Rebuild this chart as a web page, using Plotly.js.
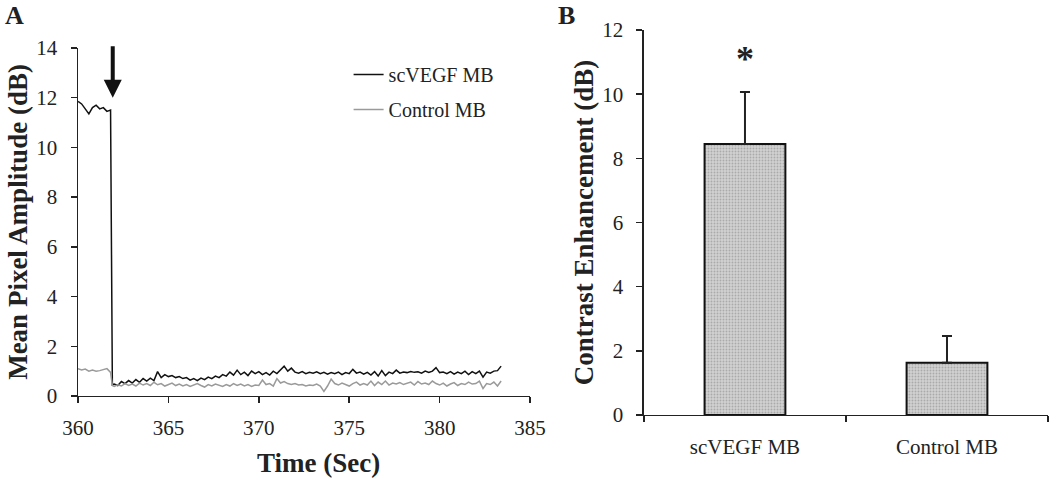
<!DOCTYPE html>
<html>
<head>
<meta charset="utf-8">
<script src="https://cdn.plot.ly/plotly-3.0.1.min.js"></script>
<style>
  html, body { margin: 0; padding: 0; background: #fff; }
  #myDiv { width: 1050px; height: 478px; }
</style>
</head>
<body>
<div id="myDiv"></div>
<script>
// Panel A: time course (sec) of mean pixel amplitude (dB)
var timeSec = [
    360.0, 360.2, 360.4, 360.6, 360.8, 361.0, 361.2, 361.4, 361.6, 361.8, 361.9,
    362.0, 362.2, 362.4, 362.6, 362.8, 363.0, 363.2, 363.4, 363.6, 363.8,
    364.0, 364.2, 364.4, 364.6, 364.8, 365.0, 365.2, 365.4, 365.6, 365.8,
    366.0, 366.2, 366.4, 366.6, 366.8, 367.0, 367.2, 367.4, 367.6, 367.8,
    368.0, 368.2, 368.4, 368.6, 368.8, 369.0, 369.2, 369.4, 369.6, 369.8,
    370.0, 370.2, 370.4, 370.6, 370.8, 371.0, 371.2, 371.4, 371.6, 371.8,
    372.0, 372.2, 372.4, 372.6, 372.8, 373.0, 373.2, 373.4, 373.6, 373.8,
    374.0, 374.2, 374.4, 374.6, 374.8, 375.0, 375.2, 375.4, 375.6, 375.8,
    376.0, 376.2, 376.4, 376.6, 376.8, 377.0, 377.2, 377.4, 377.6, 377.8,
    378.0, 378.2, 378.4, 378.6, 378.8, 379.0, 379.2, 379.4, 379.6, 379.8,
    380.0, 380.2, 380.4, 380.6, 380.8, 381.0, 381.2, 381.4, 381.6, 381.8,
    382.0, 382.2, 382.4, 382.6, 382.8, 383.0, 383.2, 383.4
];
var scVegfAmp = [
    11.85, 11.75, 11.55, 11.35, 11.6, 11.7, 11.55, 11.6, 11.45, 11.5, 0.45,
    0.48, 0.42, 0.58, 0.5, 0.62, 0.52, 0.66, 0.55, 0.7, 0.6,
    0.72, 0.62, 0.98, 0.74, 0.86, 0.78, 0.82, 0.74, 0.78, 0.7,
    0.74, 0.64, 0.7, 0.62, 0.72, 0.66, 0.76, 0.7, 0.8, 0.74,
    0.86, 0.8, 0.96, 0.84, 1.04, 0.86, 0.96, 0.82, 1.0, 0.9,
    0.98, 0.86, 0.94, 0.84, 1.0, 0.9, 1.06, 1.2, 1.0, 1.12,
    0.96, 0.92, 0.98, 0.9, 0.95, 0.92, 0.97, 0.9, 0.95, 0.88,
    0.94, 0.9, 0.96, 0.86, 0.94, 0.9, 1.07, 0.92, 0.96, 0.88,
    0.95, 0.84, 0.98, 0.8, 1.02, 0.82, 0.96, 0.9, 1.04, 0.92,
    0.96, 0.94, 0.98, 0.95, 0.97, 0.92, 1.0, 0.95, 1.0, 1.14,
    0.94, 0.96, 0.9, 0.98, 0.88, 0.96, 0.9, 1.0, 0.86, 0.98,
    0.9, 1.0, 0.76, 0.96, 0.92, 1.0, 1.02, 1.2
];
var controlAmp = [
    1.1, 1.05, 1.08, 1.0, 1.04, 1.0, 1.02, 1.06, 1.1, 0.95, 0.42,
    0.38, 0.45, 0.4, 0.5, 0.42, 0.48, 0.4, 0.52, 0.44, 0.5,
    0.42, 0.55, 0.45, 0.5, 0.4, 0.46, 0.52, 0.42, 0.48, 0.4,
    0.46, 0.38, 0.44, 0.5, 0.42, 0.36, 0.46, 0.4, 0.48, 0.42,
    0.38, 0.46, 0.4, 0.5, 0.42, 0.48, 0.4, 0.46, 0.38, 0.44,
    0.42, 0.64, 0.46, 0.5, 0.4, 0.7, 0.52, 0.58, 0.5, 0.46,
    0.5, 0.44, 0.46, 0.4, 0.44, 0.42, 0.48, 0.4, 0.18, 0.4,
    0.68, 0.5, 0.44, 0.52, 0.46, 0.4, 0.5, 0.56, 0.44, 0.5,
    0.44, 0.6, 0.42, 0.56, 0.46, 0.6, 0.44, 0.52, 0.48, 0.54,
    0.46, 0.5, 0.56, 0.44, 0.58, 0.48, 0.52, 0.46, 0.6, 0.5,
    0.44, 0.52, 0.4, 0.48, 0.54, 0.42, 0.5, 0.46, 0.56, 0.48,
    0.5, 0.6, 0.3, 0.5, 0.46, 0.56, 0.4, 0.6
];
var injectTime = 361.92;

// Panel B: contrast enhancement
var groups = ['scVEGF MB', 'Control MB'];
var enhancement = [8.45, 1.63];
var enhancementErr = [1.62, 0.83];

var serif = '"Liberation Serif", "Times New Roman", serif';
var ink = '#222';

var traceVegf = {
    x: timeSec, y: scVegfAmp,
    name: 'scVEGF MB', legendgroup: 'a',
    mode: 'lines', type: 'scatter',
    line: {color: '#111', width: 1.5},
    xaxis: 'x', yaxis: 'y'
};
var traceCtrl = {
    x: timeSec, y: controlAmp,
    name: 'Control MB', legendgroup: 'b',
    mode: 'lines', type: 'scatter',
    line: {color: '#9a9a9a', width: 1.5},
    xaxis: 'x', yaxis: 'y'
};
var traceBars = {
    x: groups, y: enhancement,
    type: 'bar', width: 0.4, showlegend: false,
    marker: {
        color: '#c9c9c9',
        line: {color: '#111', width: 2},
        pattern: {shape: '.', bgcolor: '#d2d2d2', fgcolor: '#a9a9a9', size: 3, solidity: 0.3}
    },
    error_y: {
        type: 'data', symmetric: false,
        array: enhancementErr, arrayminus: [0, 0],
        color: ink, thickness: 2, width: 5
    },
    xaxis: 'x2', yaxis: 'y2'
};

var axisStyle = {
    showline: true, linecolor: ink, linewidth: 1.5,
    ticks: 'outside', ticklen: 6, tickwidth: 1.5, tickcolor: ink,
    showgrid: false, zeroline: false,
    tickfont: {family: serif, size: 21, color: ink}
};
function ax(extra) {
    return Object.assign({}, axisStyle, extra);
}

function label(text, x, y, size) {
    return {text: text, xref: 'paper', yref: 'paper', x: x / 1050, y: 1 - y / 478,
        xanchor: 'center', yanchor: 'middle', showarrow: false,
        font: {family: serif, size: size, color: ink}};
}

var layout = {
    width: 1050, height: 478,
    margin: {l: 0, r: 0, t: 0, b: 0},
    paper_bgcolor: '#fff', plot_bgcolor: '#fff',
    font: {family: serif, color: ink},
    showlegend: true,
    legend: {
        x: 0.332, y: 0.885, xanchor: 'left', yanchor: 'top',
        bgcolor: 'rgba(0,0,0,0)', traceorder: 'grouped', tracegroupgap: 6,
        font: {family: serif, size: 20, color: ink}
    },
    xaxis: ax({domain: [0.0743, 0.5048], range: [360, 385], dtick: 5, anchor: 'y', ticklabelstandoff: 6}),
    yaxis: ax({domain: [0.1716, 0.8996], range: [0, 14], dtick: 2, anchor: 'x', ticklabelstandoff: 9,
        title: {text: '<b>Mean Pixel Amplitude (dB)</b>', standoff: 1, font: {family: serif, size: 27, color: ink}}}),
    xaxis2: ax({domain: [0.6133, 0.9981], type: 'category', range: [-0.5, 1.5], anchor: 'y2',
        tickson: 'boundaries', ticklabelstandoff: 12}),
    yaxis2: ax({domain: [0.1318, 0.9372], range: [0, 12], dtick: 2, anchor: 'x2', ticklabelstandoff: 9,
        title: {text: '<b>Contrast Enhancement (dB)</b>', standoff: 1, font: {family: serif, size: 27, color: ink}}}),
    annotations: [
        label('<b>A</b>', 14, 15, 26),
        label('<b>B</b>', 566, 15, 26),
        label('<b>Time (Sec)</b>', 318, 463, 27),
        {text: '<b>*</b>', xref: 'x2', yref: 'y2', x: groups[0], y: 11.1,
            xanchor: 'center', yanchor: 'middle',
            showarrow: false, font: {family: serif, size: 36, color: ink}},
        {text: '', xref: 'x', yref: 'y', x: injectTime, y: 12.0, ax: 0, ay: -53,
            showarrow: true, arrowhead: 2, arrowsize: 0.9, arrowwidth: 4, arrowcolor: '#111'}
    ]
};

Plotly.newPlot('myDiv', [traceVegf, traceCtrl, traceBars], layout, {staticPlot: true});
</script>
</body>
</html>
